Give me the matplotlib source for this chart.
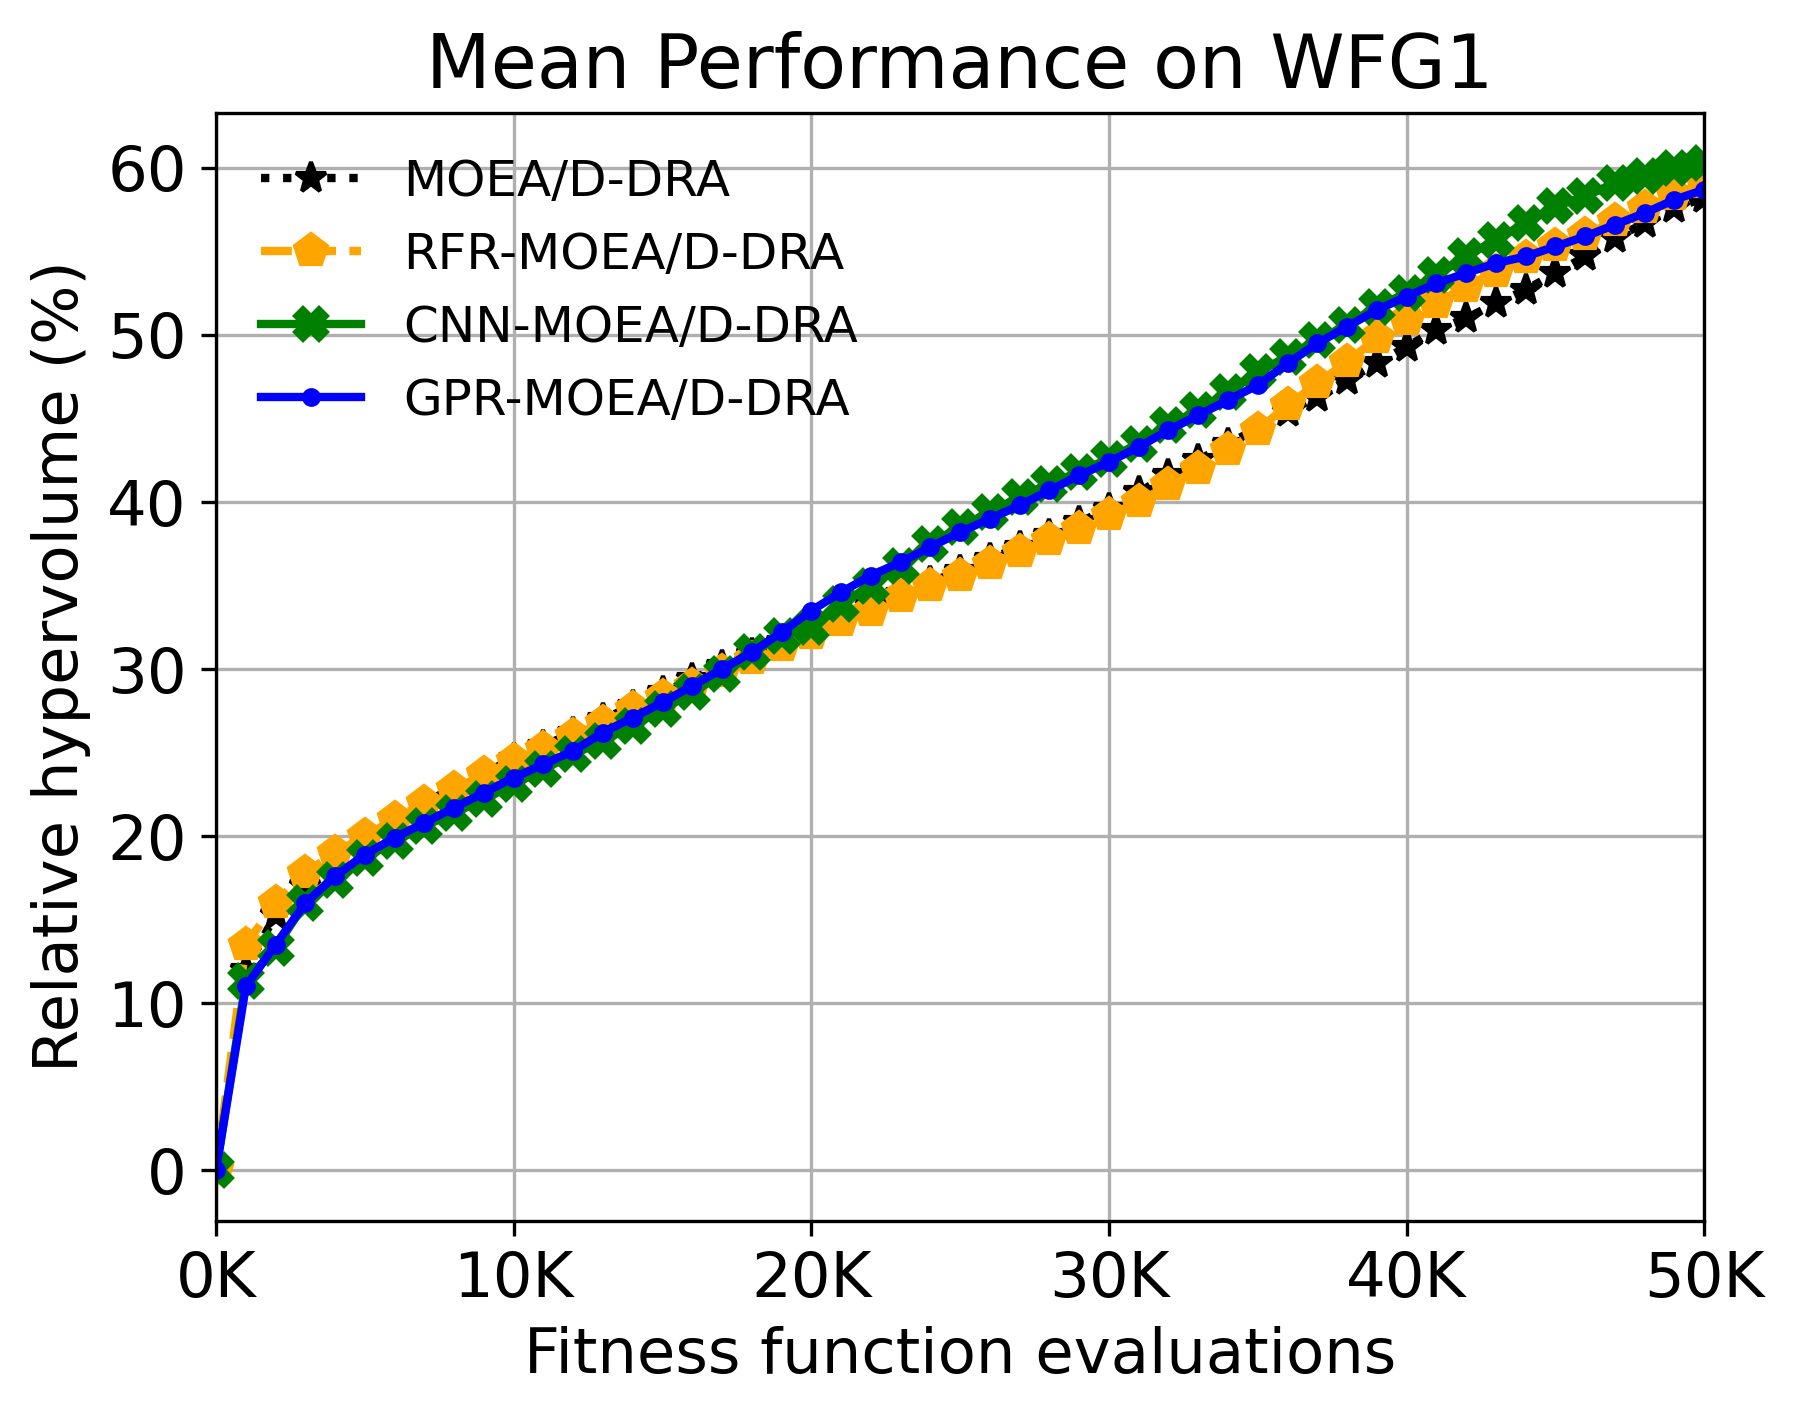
import numpy as np
import matplotlib.pyplot as plt
from matplotlib.ticker import FuncFormatter

evals = np.arange(0, 51) * 1000

moead = [0, 12.0, 15.3, 17.0, 18.7, 19.9, 21.0, 22.0, 22.9, 23.8, 24.6,
         25.4, 26.2, 27.0, 27.8, 28.6, 29.4, 30.2, 30.9, 31.6, 32.4,
         33.1, 33.8, 34.5, 35.2, 35.9, 36.6, 37.3, 38.0, 38.8, 39.6,
         40.6, 41.6, 42.5, 43.5, 44.4, 45.4, 46.3, 47.3, 48.3, 49.3,
         50.3, 51.0, 51.9, 52.7, 53.7, 54.7, 55.8, 56.7, 57.6, 58.2]
rfr = [0, 13.5, 16.0, 17.8, 19.0, 20.0, 21.0, 22.0, 22.8, 23.7, 24.5,
       25.2, 26.0, 26.8, 27.6, 28.3, 29.0, 29.8, 30.6, 31.4, 32.1,
       32.9, 33.5, 34.3, 35.0, 35.6, 36.3, 37.0, 37.7, 38.4, 39.2,
       40.0, 41.0, 42.0, 43.1, 44.3, 45.8, 47.1, 48.4, 49.8, 50.9,
       51.9, 52.9, 53.8, 54.6, 55.3, 56.0, 56.8, 57.6, 58.4, 59.1]
cnn = [0, 11.3, 13.3, 16.0, 17.4, 18.7, 19.7, 20.6, 21.4, 22.2, 23.1,
       24.0, 24.9, 25.7, 26.6, 27.6, 28.6, 29.7, 31.0, 32.0, 32.5,
       33.9, 35.0, 36.2, 37.5, 38.5, 39.4, 40.3, 41.1, 41.8, 42.6,
       43.5, 44.6, 45.5, 46.6, 47.8, 48.7, 49.7, 50.6, 51.7, 52.5,
       53.6, 54.7, 55.7, 56.7, 57.7, 58.3, 59.1, 59.5, 60.0, 60.3]
gpr = [0, 11.0, 13.5, 16.0, 17.6, 18.9, 19.9, 20.8, 21.7, 22.6, 23.5,
       24.3, 25.1, 26.2, 27.1, 28.0, 29.0, 30.0, 31.0, 32.2, 33.5,
       34.6, 35.6, 36.4, 37.3, 38.2, 39.0, 39.8, 40.7, 41.6, 42.4,
       43.3, 44.3, 45.2, 46.1, 47.0, 48.3, 49.5, 50.5, 51.5, 52.3,
       53.1, 53.7, 54.3, 54.7, 55.3, 55.9, 56.6, 57.3, 58.1, 58.7]

fig = plt.figure(figsize=(1793/300, 1416/300), dpi=300)
ax = fig.add_axes([0.1205, 0.138, 0.830, 0.7825])

ax.plot(evals, moead, 'k:*', lw=2, ms=7.5, label='MOEA/D-DRA')
ax.plot(evals, rfr, '--p', color='orange', lw=2, ms=8, label='RFR-MOEA/D-DRA')
ax.plot(evals, cnn, '-X', color='green', lw=2, ms=7.5, label='CNN-MOEA/D-DRA')
ax.plot(evals, gpr, '-o', color='blue', lw=2, ms=3.5, label='GPR-MOEA/D-DRA')

ax.set_xlim(0, 50000)
ax.xaxis.set_major_formatter(FuncFormatter(lambda v, p: '%dK' % (v / 1000)))
ax.grid(True)
ax.tick_params(labelsize=15)
ax.set_title('Mean Performance on WFG1', fontsize=18)
ax.set_xlabel('Fitness function evaluations', fontsize=15)
ax.set_ylabel('Relative hypervolume (%)', fontsize=15)
ax.legend(loc='upper left', frameon=False, fontsize=12, handletextpad=0.85)

plt.savefig('out.png', dpi=300)
